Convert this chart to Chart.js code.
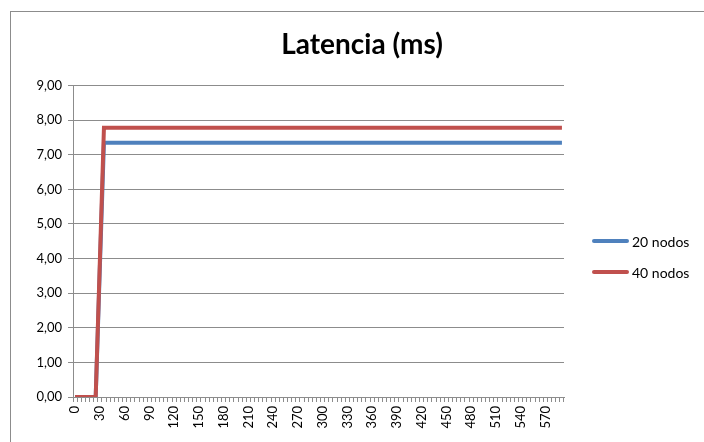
<!DOCTYPE html>
<html>
<head>
<meta charset="utf-8">
<script src="https://cdn.jsdelivr.net/npm/chart.js@4"></script>
<style>
    body { margin: 0; background: #fff; }
    #wrap { position: relative; width: 704px; height: 442px; overflow: hidden; }
    #marco { position: absolute; left: 10px; top: 11px; width: 720px; height: 460px; border: 1px solid #8c8c8c; box-sizing: border-box; }
    canvas { position: absolute; left: 0; top: 0; }
</style>
</head>
<body>
<div id="wrap">
    <div id="marco"></div>
    <canvas id="latenciaChart" width="704" height="442"></canvas>
</div>
<script>
// Tiempo (categorías del eje X)
const tiempos = [
    0, 5, 10, 15, 20, 25, 30, 35, 40, 45,
    50, 55, 60, 65, 70, 75, 80, 85, 90, 95,
    100, 105, 110, 115, 120, 125, 130, 135, 140, 145,
    150, 155, 160, 165, 170, 175, 180, 185, 190, 195,
    200, 205, 210, 215, 220, 225, 230, 235, 240, 245,
    250, 255, 260, 265, 270, 275, 280, 285, 290, 295,
    300, 305, 310, 315, 320, 325, 330, 335, 340, 345,
    350, 355, 360, 365, 370, 375, 380, 385, 390, 395,
    400, 405, 410, 415, 420, 425, 430, 435, 440, 445,
    450, 455, 460, 465, 470, 475, 480, 485, 490, 495,
    500, 505, 510, 515, 520, 525, 530, 535, 540, 545,
    550, 555, 560, 565, 570, 575, 580, 585, 590
];

// Latencia 20 nodos (ms)
const latencia20 = [
    0, 0, 0, 0, 0, 0, 3.7, 7.35, 7.35, 7.35,
    7.35, 7.35, 7.35, 7.35, 7.35, 7.35, 7.35, 7.35, 7.35, 7.35,
    7.35, 7.35, 7.35, 7.35, 7.35, 7.35, 7.35, 7.35, 7.35, 7.35,
    7.35, 7.35, 7.35, 7.35, 7.35, 7.35, 7.35, 7.35, 7.35, 7.35,
    7.35, 7.35, 7.35, 7.35, 7.35, 7.35, 7.35, 7.35, 7.35, 7.35,
    7.35, 7.35, 7.35, 7.35, 7.35, 7.35, 7.35, 7.35, 7.35, 7.35,
    7.35, 7.35, 7.35, 7.35, 7.35, 7.35, 7.35, 7.35, 7.35, 7.35,
    7.35, 7.35, 7.35, 7.35, 7.35, 7.35, 7.35, 7.35, 7.35, 7.35,
    7.35, 7.35, 7.35, 7.35, 7.35, 7.35, 7.35, 7.35, 7.35, 7.35,
    7.35, 7.35, 7.35, 7.35, 7.35, 7.35, 7.35, 7.35, 7.35, 7.35,
    7.35, 7.35, 7.35, 7.35, 7.35, 7.35, 7.35, 7.35, 7.35, 7.35,
    7.35, 7.35, 7.35, 7.35, 7.35, 7.35, 7.35, 7.35, 7.35
];

// Latencia 40 nodos (ms)
const latencia40 = [
    0, 0, 0, 0, 0, 0, 3.9, 7.78, 7.78, 7.78,
    7.78, 7.78, 7.78, 7.78, 7.78, 7.78, 7.78, 7.78, 7.78, 7.78,
    7.78, 7.78, 7.78, 7.78, 7.78, 7.78, 7.78, 7.78, 7.78, 7.78,
    7.78, 7.78, 7.78, 7.78, 7.78, 7.78, 7.78, 7.78, 7.78, 7.78,
    7.78, 7.78, 7.78, 7.78, 7.78, 7.78, 7.78, 7.78, 7.78, 7.78,
    7.78, 7.78, 7.78, 7.78, 7.78, 7.78, 7.78, 7.78, 7.78, 7.78,
    7.78, 7.78, 7.78, 7.78, 7.78, 7.78, 7.78, 7.78, 7.78, 7.78,
    7.78, 7.78, 7.78, 7.78, 7.78, 7.78, 7.78, 7.78, 7.78, 7.78,
    7.78, 7.78, 7.78, 7.78, 7.78, 7.78, 7.78, 7.78, 7.78, 7.78,
    7.78, 7.78, 7.78, 7.78, 7.78, 7.78, 7.78, 7.78, 7.78, 7.78,
    7.78, 7.78, 7.78, 7.78, 7.78, 7.78, 7.78, 7.78, 7.78, 7.78,
    7.78, 7.78, 7.78, 7.78, 7.78, 7.78, 7.78, 7.78, 7.78
];

const series = ['20 nodos', '40 nodos'];
const COLORES = { azul: '#4f81bd', rojo: '#c0504d', grid: '#8c8c8c' };
const FUENTE = "Lato, 'Open Sans', sans-serif";

// Leyenda dibujada a mano para colocarla como en Excel
const leyendaExcel = {
    id: 'leyendaExcel',
    afterDraw(chart) {
        const ctx = chart.ctx;
        const filas = [241, 272];
        ctx.save();
        chart.data.datasets.forEach((ds, i) => {
            const y = filas[i];
            ctx.strokeStyle = ds.borderColor;
            ctx.lineWidth = 4;
            ctx.lineCap = 'round';
            ctx.beginPath();
            ctx.moveTo(594, y);
            ctx.lineTo(627, y);
            ctx.stroke();
            ctx.fillStyle = '#000';
            ctx.font = '14px ' + FUENTE;
            ctx.textBaseline = 'middle';
            ctx.textAlign = 'left';
            ctx.fillText(ds.label, 632, y + 1);
        });
        ctx.restore();
    }
};

new Chart(document.getElementById('latenciaChart'), {
    type: 'line',
    data: {
        labels: tiempos,
        datasets: [
            { label: series[0], data: latencia20, borderColor: COLORES.azul, backgroundColor: COLORES.azul, borderWidth: 4, pointRadius: 0, tension: 0, order: 1 },
            { label: series[1], data: latencia40, borderColor: COLORES.rojo, backgroundColor: COLORES.rojo, borderWidth: 4, pointRadius: 0, tension: 0, order: 0 }
        ]
    },
    options: {
        responsive: false,
        animation: false,
        layout: { padding: { left: 20, right: 0, top: 28, bottom: 0 } },
        plugins: {
            legend: { display: false },
            tooltip: { enabled: false },
            title: {
                display: true,
                text: 'Latencia (ms)',
                color: '#000',
                font: { family: FUENTE, size: 28, weight: 'bold' },
                padding: { top: 0, bottom: 24 }
            }
        },
        scales: {
            x: {
                offset: true,
                grid: { display: true, drawOnChartArea: false, drawTicks: true, tickLength: 5, color: COLORES.grid, offset: true },
                border: { color: COLORES.grid },
                ticks: {
                    autoSkip: false,
                    maxRotation: 90,
                    minRotation: 90,
                    color: '#000',
                    font: { family: FUENTE, size: 13 },
                    padding: 4,
                    callback: function(value, index) {
                        const t = tiempos[index];
                        return t % 30 === 0 ? String(t) : '';
                    }
                },
                afterFit: function(scale) { scale.height = 45; }
            },
            y: {
                min: 0,
                max: 9,
                grid: { color: COLORES.grid, tickLength: 5 },
                border: { color: COLORES.grid },
                ticks: {
                    stepSize: 1,
                    color: '#000',
                    font: { family: FUENTE, size: 13 },
                    padding: 6,
                    callback: value => value.toFixed(2).replace('.', ',')
                },
                afterFit: function(scale) { scale.width = 53; }
            },
            // eje vacío que reserva el hueco de la leyenda a la derecha
            hueco: {
                position: 'right',
                display: true,
                grid: { display: false, drawTicks: false },
                border: { display: false },
                ticks: { display: false },
                afterFit: function(scale) { scale.width = 140; }
            }
        }
    },
    plugins: [leyendaExcel]
});
</script>
</body>
</html>
